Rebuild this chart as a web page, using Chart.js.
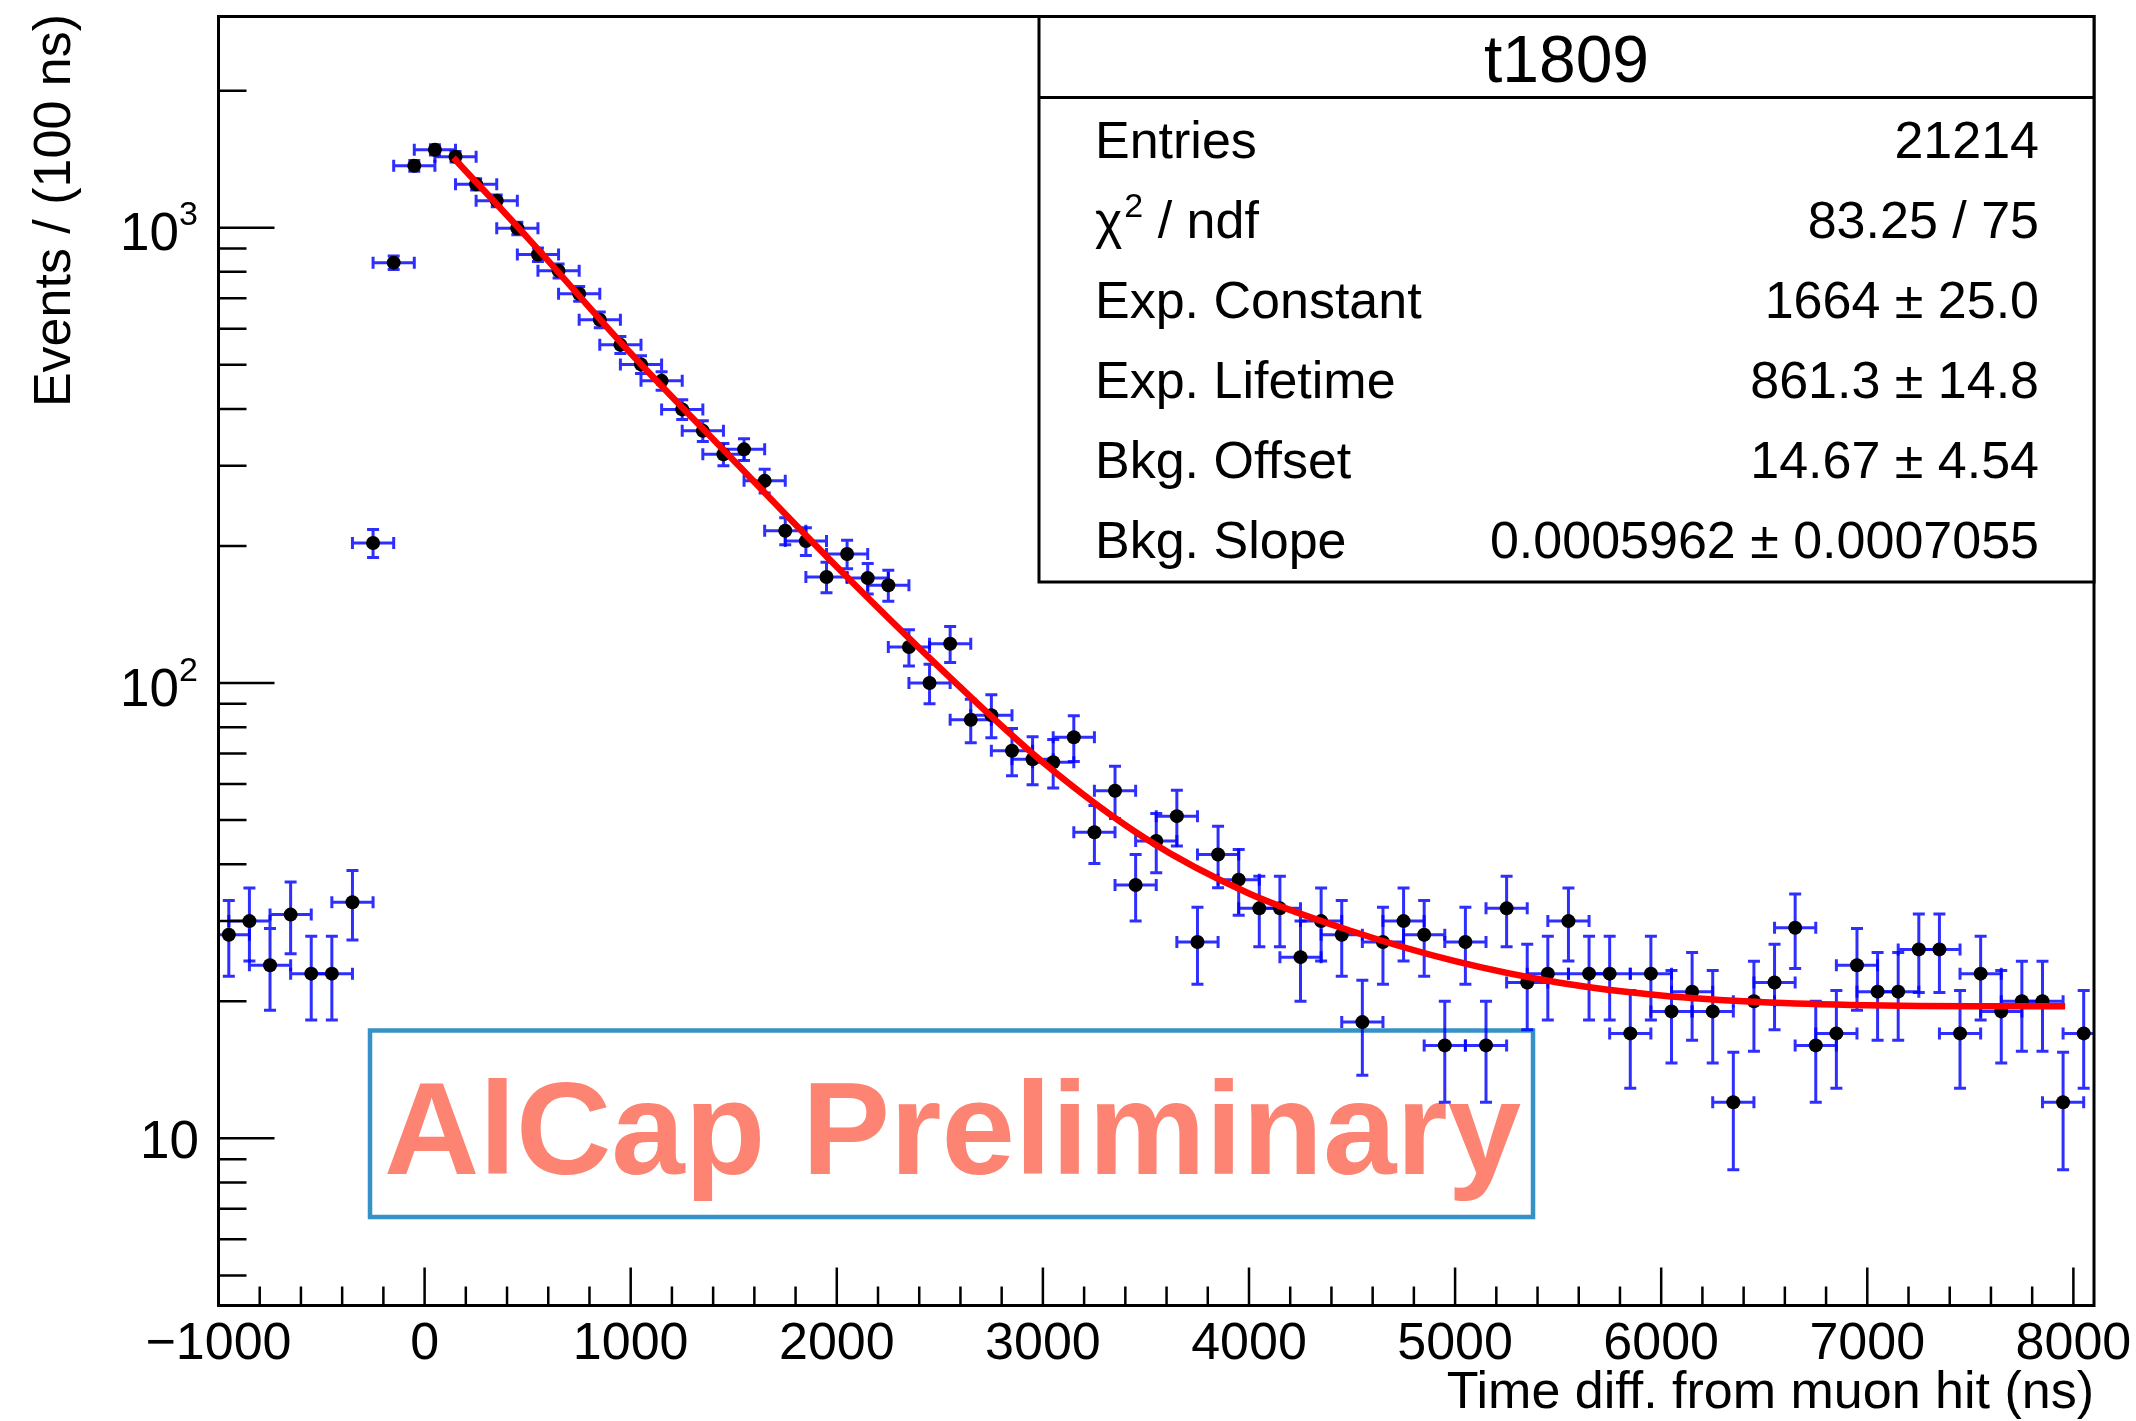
<!DOCTYPE html>
<html>
<head>
<meta charset="utf-8">
<script src="https://cdn.jsdelivr.net/npm/chart.js@4.4.1/dist/chart.umd.min.js"></script>
<style>
  html, body { margin: 0; padding: 0; background: #fff; }
  #wrap { width: 2136px; height: 1421px; position: relative; }
</style>
</head>
<body>
<div id="wrap"><canvas id="c"></canvas></div>
<script>
// bin centres (ns), 100 ns bins
const binCenters = [-950, -850, -750, -650, -550, -450, -350, -250, -150, -50,
  50, 150, 250, 350, 450, 550, 650, 750, 850, 950,
  1050, 1150, 1250, 1350, 1450, 1550, 1650, 1750, 1850, 1950,
  2050, 2150, 2250, 2350, 2450, 2550, 2650, 2750, 2850, 2950,
  3050, 3150, 3250, 3350, 3450, 3550, 3650, 3750, 3850, 3950,
  4050, 4150, 4250, 4350, 4450, 4550, 4650, 4750, 4850, 4950,
  5050, 5150, 5250, 5350, 5450, 5550, 5650, 5750, 5850, 5950,
  6050, 6150, 6250, 6350, 6450, 6550, 6650, 6750, 6850, 6950,
  7050, 7150, 7250, 7350, 7450, 7550, 7650, 7750, 7850, 7950,
  8050];

// events per bin
const counts = [28, 30, 24, 31, 23, 23, 33, 203, 838, 1368,
  1483, 1432, 1246, 1146, 997, 873, 804, 716, 628, 553,
  501, 461, 399, 358, 318, 326, 278, 216, 205, 171,
  192, 170, 164, 120, 100, 122, 83, 85, 71, 68,
  67, 76, 47, 58, 36, 45, 51, 27, 42, 37,
  32, 32, 25, 30, 28, 18, 27, 30, 28, 16,
  27, 16, 32, 22, 23, 30, 23, 23, 17, 23,
  19, 21, 19, 12, 20, 22, 29, 16, 17, 24,
  21, 21, 26, 26, 17, 23, 19, 20, 20, 12,
  17];

// horizontal error bar half width as drawn (ns)
const xErrHalf = 100;

// fit curve
const fitTimes = [140, 500, 1000, 1500, 2000, 2500, 3000, 3500, 4000, 4500, 5000, 5500, 6000, 6500, 7000, 7500, 7960];
const fitValues = [1425, 950, 530, 308, 180, 108, 67, 45.5, 34.5, 28.5, 24.5, 22.0, 20.6, 19.9, 19.6, 19.5, 19.5];

// axis ticks
const xMajorTicks = [-1000, 0, 1000, 2000, 3000, 4000, 5000, 6000, 7000, 8000];
const xTickLabels = ['\u22121000', '0', '1000', '2000', '3000', '4000', '5000', '6000', '7000', '8000'];
const xMinorTicks = [-800, -600, -400, -200, 200, 400, 600, 800, 1200, 1400, 1600, 1800,
  2200, 2400, 2600, 2800, 3200, 3400, 3600, 3800, 4200, 4400, 4600, 4800,
  5200, 5400, 5600, 5800, 6200, 6400, 6600, 6800, 7200, 7400, 7600, 7800];
const yMajorTicks = [10, 100, 1000];
const yTickBase = ['10', '10', '10'];
const yTickSup = ['', '2', '3'];
const yMinorTicks = [5, 6, 7, 8, 9, 20, 30, 40, 50, 60, 70, 80, 90,
  200, 300, 400, 500, 600, 700, 800, 900, 2000];

// stats box
const statsTitle = 't1809';
const statsLabels = ['Entries', 'chi2', 'Exp. Constant', 'Exp. Lifetime', 'Bkg. Offset', 'Bkg. Slope'];
const statsValues = ['21214', '83.25 / 75', '1664 \u00b1 25.0', '861.3 \u00b1 14.8', '14.67 \u00b1 4.54', '0.0005962 \u00b1 0.0007055'];

const FONT = '"Liberation Sans", Arial, Helvetica, sans-serif';

// 误差棒（泊松误差 sqrt(N)）
const errorBars = {
  id: 'errorBars',
  beforeDatasetsDraw(chart) {
    const { ctx, chartArea: a, scales: { x, y } } = chart;
    ctx.save();
    ctx.beginPath();
    ctx.rect(a.left, a.top, a.right - a.left, a.bottom - a.top);
    ctx.clip();
    ctx.strokeStyle = 'rgba(0,0,255,0.82)';
    ctx.lineWidth = 3;
    const cap = 6;
    binCenters.forEach((t, i) => {
      const n = counts[i];
      const e = Math.sqrt(n);
      const px = x.getPixelForValue(t);
      const py = y.getPixelForValue(n);
      const x0 = x.getPixelForValue(t - xErrHalf);
      const x1 = x.getPixelForValue(t + xErrHalf);
      const y0 = y.getPixelForValue(n + e);
      const y1 = y.getPixelForValue(n - e);
      ctx.beginPath();
      ctx.moveTo(x0, py); ctx.lineTo(x1, py);
      ctx.moveTo(x0, py - cap); ctx.lineTo(x0, py + cap);
      ctx.moveTo(x1, py - cap); ctx.lineTo(x1, py + cap);
      ctx.moveTo(px, y0); ctx.lineTo(px, y1);
      ctx.moveTo(px - cap, y0); ctx.lineTo(px + cap, y0);
      ctx.moveTo(px - cap, y1); ctx.lineTo(px + cap, y1);
      ctx.stroke();
    });
    ctx.restore();
  }
};

// "AlCap Preliminary" 框
const prelimBox = {
  id: 'prelimBox',
  beforeDatasetsDraw(chart) {
    const { ctx } = chart;
    ctx.save();
    ctx.strokeStyle = '#3791c9';
    ctx.lineWidth = 4.5;
    ctx.strokeRect(370, 1030.5, 1163, 186.5);
    ctx.fillStyle = '#fd8373';
    ctx.font = `bold 132px ${FONT}`;
    ctx.textAlign = 'left';
    ctx.textBaseline = 'alphabetic';
    ctx.fillText('AlCap Preliminary', 384, 1174);
    ctx.restore();
  }
};

// ROOT 风格的框、刻度和标签
const rootAxes = {
  id: 'rootAxes',
  afterDraw(chart) {
    const { ctx, chartArea: a, scales: { x, y } } = chart;
    ctx.save();
    ctx.strokeStyle = '#000';
    ctx.lineWidth = 3;
    ctx.strokeRect(a.left, a.top, a.right - a.left, a.bottom - a.top);

    ctx.lineWidth = 2.5;
    ctx.beginPath();
    xMajorTicks.forEach(v => {
      const px = x.getPixelForValue(v);
      ctx.moveTo(px, a.bottom); ctx.lineTo(px, a.bottom - 38);
    });
    xMinorTicks.forEach(v => {
      const px = x.getPixelForValue(v);
      ctx.moveTo(px, a.bottom); ctx.lineTo(px, a.bottom - 19);
    });
    yMajorTicks.forEach(v => {
      const py = y.getPixelForValue(v);
      ctx.moveTo(a.left, py); ctx.lineTo(a.left + 56, py);
    });
    yMinorTicks.forEach(v => {
      const py = y.getPixelForValue(v);
      ctx.moveTo(a.left, py); ctx.lineTo(a.left + 28, py);
    });
    ctx.stroke();

    ctx.fillStyle = '#000';
    ctx.textBaseline = 'alphabetic';

    // x 刻度标签
    ctx.font = `52px ${FONT}`;
    ctx.textAlign = 'center';
    xMajorTicks.forEach((v, i) => {
      ctx.fillText(xTickLabels[i], x.getPixelForValue(v), 1359);
    });

    // y 刻度标签 (10, 10^2, 10^3)
    ctx.textAlign = 'right';
    yMajorTicks.forEach((v, i) => {
      const py = y.getPixelForValue(v);
      if (yTickSup[i]) {
        ctx.font = `34px ${FONT}`;
        ctx.fillText(yTickSup[i], 198, py - 2.5);
        ctx.font = `53px ${FONT}`;
        ctx.fillText(yTickBase[i], 179, py + 22.5);
      } else {
        ctx.font = `53px ${FONT}`;
        ctx.fillText(yTickBase[i], 199, py + 19.5);
      }
    });

    // 轴标题
    ctx.font = `52px ${FONT}`;
    ctx.textAlign = 'right';
    ctx.fillText('Time diff. from muon hit (ns)', a.right, 1408);

    ctx.save();
    ctx.translate(70, 14);
    ctx.rotate(-Math.PI / 2);
    ctx.font = `52px ${FONT}`;
    ctx.textAlign = 'right';
    ctx.fillText('Events / (100 ns)', 0, 0);
    ctx.restore();

    ctx.restore();
  }
};

// 统计框
const statsBox = {
  id: 'statsBox',
  afterDraw(chart) {
    const { ctx, chartArea: a } = chart;
    const left = 1039, top = a.top, right = a.right, bottom = 582, sep = 97.5;
    ctx.save();
    ctx.fillStyle = '#fff';
    ctx.fillRect(left, top, right - left, bottom - top);
    ctx.strokeStyle = '#000';
    ctx.lineWidth = 3;
    ctx.strokeRect(left, top, right - left, bottom - top);
    ctx.beginPath();
    ctx.moveTo(left, sep); ctx.lineTo(right, sep);
    ctx.stroke();

    ctx.fillStyle = '#000';
    ctx.textBaseline = 'alphabetic';
    ctx.font = `66px ${FONT}`;
    ctx.textAlign = 'center';
    ctx.fillText(statsTitle, (left + right) / 2, 82);

    statsLabels.forEach((lab, i) => {
      const base = 158 + 80 * i;
      ctx.textAlign = 'left';
      ctx.font = `52px ${FONT}`;
      if (lab === 'chi2') {
        let cx = 1095;
        ctx.fillText('\u03c7', cx, base);
        cx += ctx.measureText('\u03c7').width + 2;
        ctx.font = `34px ${FONT}`;
        ctx.fillText('2', cx, base - 21);
        cx += ctx.measureText('2').width;
        ctx.font = `52px ${FONT}`;
        ctx.fillText(' / ndf', cx, base);
      } else {
        ctx.fillText(lab, 1095, base);
      }
      ctx.textAlign = 'right';
      ctx.fillText(statsValues[i], 2039, base);
    });
    ctx.restore();
  }
};

new Chart(document.getElementById('c'), {
  type: 'scatter',
  data: {
    datasets: [
      {
        label: 'fit',
        data: fitTimes.map((t, i) => ({ x: t, y: fitValues[i] })),
        showLine: true,
        borderColor: '#ff0000',
        borderWidth: 6.5,
        pointRadius: 0,
        cubicInterpolationMode: 'monotone',
        fill: false,
        order: 0
      },
      {
        label: 'data',
        data: binCenters.map((t, i) => ({ x: t, y: counts[i] })),
        showLine: false,
        pointRadius: 7,
        pointBackgroundColor: '#000',
        pointBorderWidth: 0,
        order: 1
      }
    ]
  },
  options: {
    responsive: true,
    maintainAspectRatio: false,
    devicePixelRatio: 1,
    animation: false,
    events: [],
    layout: { padding: { left: 218.5, top: 16.5, right: 42, bottom: 115.5 } },
    scales: {
      x: { type: 'linear', min: -1000, max: 8100, display: false },
      y: { type: 'logarithmic', min: 4.294, max: 2910, display: false }
    },
    plugins: {
      legend: { display: false },
      tooltip: { enabled: false }
    }
  },
  plugins: [prelimBox, errorBars, rootAxes, statsBox]
});
</script>
</body>
</html>
